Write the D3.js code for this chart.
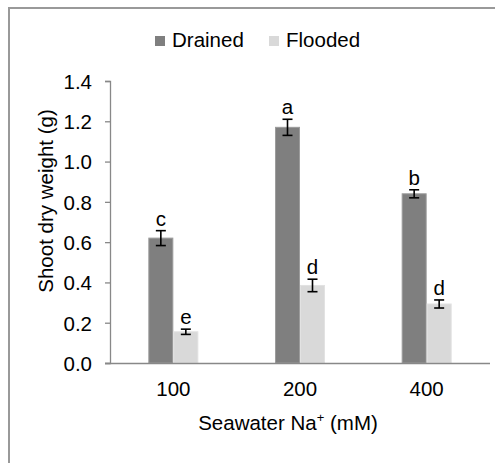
<!DOCTYPE html>
<html>
<head>
<meta charset="utf-8">
<script src="https://cdn.jsdelivr.net/npm/d3@7"></script>
<style>
  body { margin: 0; background: #fff; }
  text { font-family: "Liberation Sans", Arial, sans-serif; }
</style>
</head>
<body>
<svg></svg>
<script>
const categories = ["100", "200", "400"];
const seriesNames = ["Drained", "Flooded"];
const drained = [0.62, 1.17, 0.84];
const flooded = [0.155, 0.385, 0.293];
const drainedErr = [0.037, 0.04, 0.02];
const floodedErr = [0.013, 0.031, 0.02];
const drainedLetters = ["c", "a", "b"];
const floodedLetters = ["e", "d", "d"];
const yTicks = [0, 0.2, 0.4, 0.6, 0.8, 1.0, 1.2, 1.4];

let width = 495,
    height = 463,
    fs = 20.5;

const svg = d3.select("svg")
    .attr("width", width)
    .attr("height", height);

// outer frame (right and bottom edges fall outside the picture)
svg.append("rect")
    .attr("x", 9).attr("y", 8)
    .attr("width", 520).attr("height", 500)
    .attr("fill", "none")
    .attr("stroke", "#999")
    .attr("stroke-width", 2);

const plotLeft = 110, plotRight = 490, plotTop = 81, plotBottom = 363;

const x = d3.scaleBand().domain(categories).range([plotLeft, plotRight]);
const y = d3.scaleLinear().domain([0, 1.4]).range([plotBottom, plotTop]);
const sub = d3.scaleBand().domain(seriesNames).range([-25, 25]);

const data = [];
categories.forEach((c, i) => {
    data.push({ cat: c, s: "Drained", v: drained[i], e: drainedErr[i], l: drainedLetters[i] });
    data.push({ cat: c, s: "Flooded", v: flooded[i], e: floodedErr[i], l: floodedLetters[i] });
});

const fill = { Drained: "#7f7f7f", Flooded: "#d9d9d9" };
const edge = { Drained: "#9c9c9c", Flooded: "#e2e2e2" };

// y axis
const yAxis = svg.append("g")
    .attr("transform", `translate(${plotLeft},0)`)
    .call(d3.axisLeft(y).tickValues(yTicks).tickFormat(d3.format(".1f")).tickSize(5).tickPadding(13));
yAxis.select(".domain").attr("stroke", "#888").attr("stroke-width", 1.3);
yAxis.selectAll(".tick line").attr("stroke", "#888").attr("stroke-width", 1.3);
yAxis.selectAll(".tick text").attr("font-size", fs).attr("fill", "#000").attr("dy", "0.36em");

// bars
svg.append("g").attr("class", "bars")
    .selectAll("rect")
    .data(data)
    .enter()
    .append("rect")
    .attr("x", d => x(d.cat) + x.bandwidth() / 2 + sub(d.s) + 0.5)
    .attr("width", sub.bandwidth() - 1)
    .attr("y", d => y(d.v))
    .attr("height", d => plotBottom - y(d.v))
    .attr("fill", d => fill[d.s])
    .attr("stroke", d => edge[d.s])
    .attr("stroke-width", 1);

// x axis
const xAxis = svg.append("g")
    .attr("transform", `translate(0,${plotBottom})`)
    .call(d3.axisBottom(x).tickSize(0).tickPadding(18));
xAxis.select(".domain").attr("stroke", "#888").attr("stroke-width", 1.3)
    .attr("d", `M${plotLeft - 5},0.5H${plotRight}`);
xAxis.selectAll(".tick text").attr("font-size", fs).attr("fill", "#000");

// error bars
const cx = d => x(d.cat) + x.bandwidth() / 2 + sub(d.s) + sub.bandwidth() / 2;
const eb = svg.append("g").attr("class", "errors")
    .attr("stroke", "#000").attr("stroke-width", 1.6);
eb.selectAll(".stem").data(data).enter().append("line")
    .attr("x1", cx).attr("x2", cx)
    .attr("y1", d => y(d.v + d.e)).attr("y2", d => y(d.v - d.e));
eb.selectAll(".capTop").data(data).enter().append("line")
    .attr("x1", d => cx(d) - 5).attr("x2", d => cx(d) + 5)
    .attr("y1", d => y(d.v + d.e)).attr("y2", d => y(d.v + d.e));
eb.selectAll(".capBot").data(data).enter().append("line")
    .attr("x1", d => cx(d) - 5).attr("x2", d => cx(d) + 5)
    .attr("y1", d => y(d.v - d.e)).attr("y2", d => y(d.v - d.e));

// significance letters
svg.append("g").selectAll("text")
    .data(data)
    .enter()
    .append("text")
    .attr("x", cx)
    .attr("y", d => y(d.v + d.e) - 5)
    .attr("text-anchor", "middle")
    .attr("font-size", fs)
    .text(d => d.l);

// legend
const legX = [155, 269];
const leg = svg.append("g").selectAll("g")
    .data(seriesNames)
    .enter()
    .append("g")
    .attr("transform", (d, i) => `translate(${legX[i]},36)`);
leg.append("rect")
    .attr("width", 10).attr("height", 10)
    .attr("fill", d => fill[d]);
leg.append("text")
    .attr("x", 17).attr("y", 11)
    .attr("font-size", fs)
    .text(d => d);

// axis titles
const xt = svg.append("text")
    .attr("x", 288).attr("y", 430)
    .attr("text-anchor", "middle")
    .attr("font-size", fs);
xt.append("tspan").text("Seawater Na");
xt.append("tspan").attr("font-size", 13).attr("dy", -8).text("+");
xt.append("tspan").attr("dy", 8).text(" (mM)");

svg.append("text")
    .attr("transform", "translate(53,201) rotate(-90)")
    .attr("text-anchor", "middle")
    .attr("font-size", fs)
    .text("Shoot dry weight (g)");
</script>
</body>
</html>
